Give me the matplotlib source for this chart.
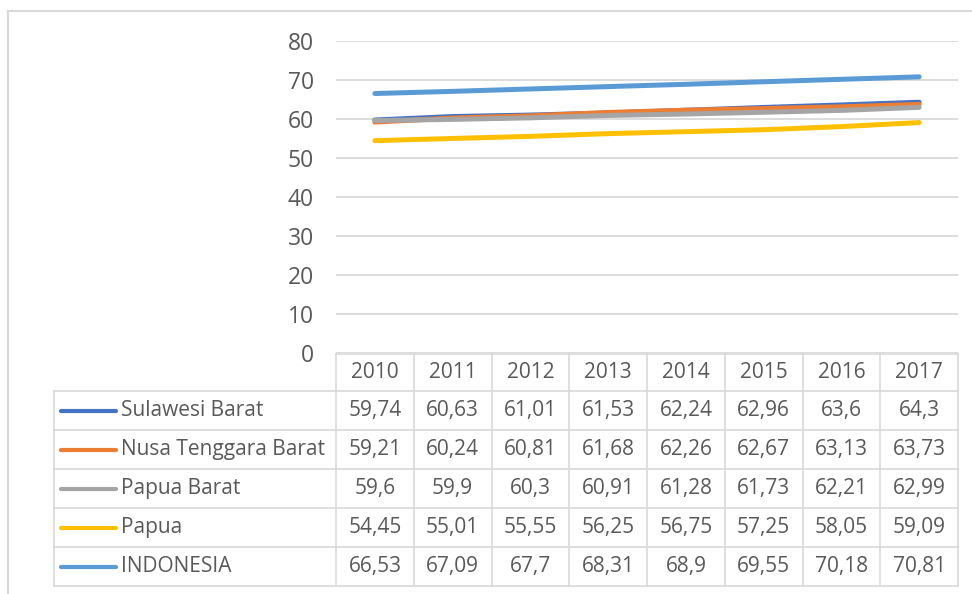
import matplotlib
matplotlib.use("Agg")
import matplotlib.pyplot as plt

years = [2010, 2011, 2012, 2013, 2014, 2015, 2016, 2017]
series_names = ["Sulawesi Barat", "Nusa Tenggara Barat", "Papua Barat", "Papua", "INDONESIA"]
sulawesi_barat = [59.74, 60.63, 61.01, 61.53, 62.24, 62.96, 63.6, 64.3]
nusa_tenggara_barat = [59.21, 60.24, 60.81, 61.68, 62.26, 62.67, 63.13, 63.73]
papua_barat = [59.6, 59.9, 60.3, 60.91, 61.28, 61.73, 62.21, 62.99]
papua = [54.45, 55.01, 55.55, 56.25, 56.75, 57.25, 58.05, 59.09]
indonesia = [66.53, 67.09, 67.7, 68.31, 68.9, 69.55, 70.18, 70.81]
yticks = [0, 10, 20, 30, 40, 50, 60, 70, 80]
colors = ["#4472C4", "#ED7D31", "#A5A5A5", "#FFC000", "#5B9BD5"]

all_series = [sulawesi_barat, nusa_tenggara_barat, papua_barat, papua, indonesia]

W, H = 972, 594
fig = plt.figure(figsize=(W / 100, H / 100), dpi=100)
plt.rcParams['font.family'] = ['Open Sans', 'DejaVu Sans']
txt_color = "#595959"
grid_color = "#d9d9d9"
fs = 15
fs_tick = 16.5

# overlay axes in pixel coordinates for frame & table
ov = fig.add_axes([0, 0, 1, 1])
ov.set_xlim(0, W)
ov.set_ylim(H, 0)
ov.axis("off")

# plot area
L, R, T, B = 336, 958, 41, 353
ax = fig.add_axes([L / W, 1 - B / H, (R - L) / W, (B - T) / H])
ax.set_xlim(-0.5, len(years) - 0.5)
ax.set_ylim(0, 80)
for s in ax.spines.values():
    s.set_visible(False)
ax.set_xticks([])
ax.set_yticks(yticks)
ax.tick_params(axis='y', length=0, pad=16, labelsize=fs_tick, labelcolor=txt_color)
ax.yaxis.grid(True, color=grid_color, linewidth=1.3)
ax.set_axisbelow(True)
for vals, c in zip(all_series, colors):
    ax.plot(range(len(years)), vals, color=c, linewidth=3.6, solid_capstyle='round', zorder=3)

# outer frame (partially cropped)
ov.plot([8, 8], [11, H], color=grid_color, lw=1.5)
ov.plot([8, W], [11, 11], color=grid_color, lw=1.5)

# table
tl = 54
col_w = (R - L) / len(years)
hdr_top = 354
row_h = 39
hdr_bot = 391
lw = 1.2
ov.plot([L, R], [hdr_top, hdr_top], color=grid_color, lw=lw)
for i in range(len(series_names) + 1):
    y = hdr_bot + i * row_h
    ov.plot([tl, R], [y, y], color=grid_color, lw=lw)
bottom = hdr_bot + len(series_names) * row_h
ov.plot([tl, tl], [hdr_bot, bottom], color=grid_color, lw=lw)
for j in range(len(years) + 1):
    x = L + j * col_w
    ov.plot([x, x], [hdr_top, bottom], color=grid_color, lw=lw)

for j, yr in enumerate(years):
    ov.text(L + (j + 0.5) * col_w, (hdr_top + hdr_bot) / 2, str(yr), ha='center', va='center',
            fontsize=fs, color=txt_color)

for i, (name, vals, c) in enumerate(zip(series_names, all_series, colors)):
    yc = hdr_bot + (i + 0.5) * row_h
    ov.plot([61, 116], [yc, yc], color=c, lw=3.0, solid_capstyle='round')
    ov.text(121, yc, name, ha='left', va='center', fontsize=fs, color=txt_color)
    for j, v in enumerate(vals):
        ov.text(L + (j + 0.5) * col_w, yc, str(v).replace('.', ','), ha='center', va='center',
                fontsize=fs, color=txt_color)

fig.savefig("out.png", dpi=100)
